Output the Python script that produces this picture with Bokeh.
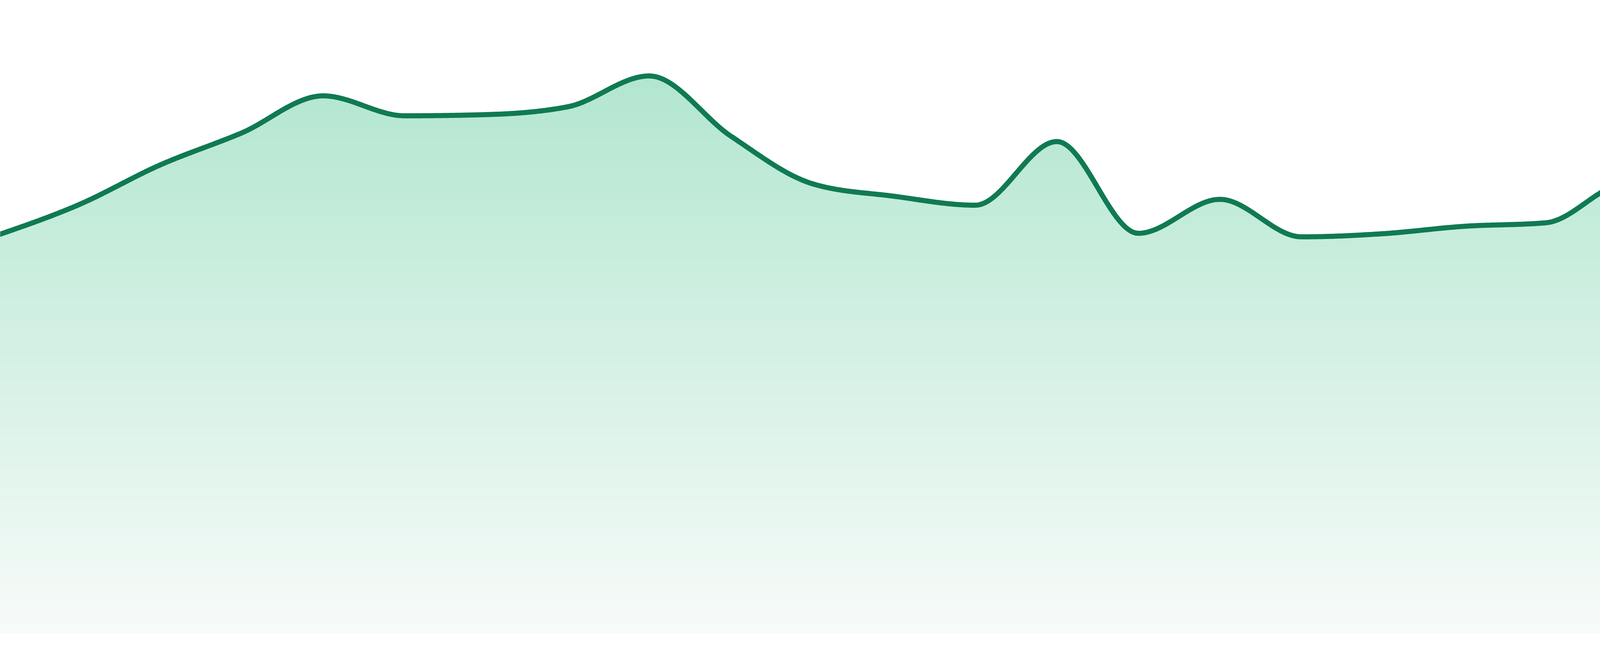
import numpy as np
from bokeh.plotting import figure
from bokeh.models import Range1d
from bokeh.embed import file_html
from bokeh.resources import INLINE

# --- data (24 evenly spaced samples) ---
index = list(range(24))
values = [102.1, 109.9, 120.1, 128.3, 137.8, 132.7, 133.0, 135.0, 142.9, 127.5,
          115.3, 112.1, 109.8, 126.1, 102.6, 111.3, 101.7, 102.5, 104.4, 105.3,
          115.5, 115.6, 116.0, 114.0]

line_color = "#107a52"
fill_top = (178, 230, 208)
fill_bottom = (247, 251, 249)


def monotone_x(xs, ys, n=40):
    xs = np.asarray(xs, float)
    ys = np.asarray(ys, float)
    m = len(xs)
    t = np.zeros(m)
    for i in range(1, m - 1):
        h0 = xs[i] - xs[i - 1]
        h1 = xs[i + 1] - xs[i]
        s0 = (ys[i] - ys[i - 1]) / h0
        s1 = (ys[i + 1] - ys[i]) / h1
        p = (s0 * h1 + s1 * h0) / (h0 + h1)
        t[i] = (np.sign(s0) + np.sign(s1)) * min(abs(s0), abs(s1), 0.5 * abs(p))
    h = xs[1] - xs[0]
    t[0] = (3 * (ys[1] - ys[0]) / h - t[1]) / 2
    h = xs[-1] - xs[-2]
    t[-1] = (3 * (ys[-1] - ys[-2]) / h - t[-2]) / 2
    ox, oy = [xs[0]], [ys[0]]
    u = np.linspace(0, 1, n + 1)[1:]
    for i in range(m - 1):
        x0, x1, y0, y1 = xs[i], xs[i + 1], ys[i], ys[i + 1]
        dx = (x1 - x0) / 3
        cx0, cy0 = x0 + dx, y0 + dx * t[i]
        cx1, cy1 = x1 - dx, y1 - dx * t[i + 1]
        bx = (1 - u) ** 3 * x0 + 3 * (1 - u) ** 2 * u * cx0 + 3 * (1 - u) * u ** 2 * cx1 + u ** 3 * x1
        by = (1 - u) ** 3 * y0 + 3 * (1 - u) ** 2 * u * cy0 + 3 * (1 - u) * u ** 2 * cy1 + u ** 3 * y1
        ox.extend(bx)
        oy.extend(by)
    return np.array(ox), np.array(oy)


cx, cy = monotone_x(index, values)

W, H = 4792, 1672
p = figure(width=W, height=H, output_backend="svg", toolbar_location=None,
           x_range=Range1d(0.03833, 23), y_range=Range1d(-4.9, 162.3),
           min_border=0, outline_line_color=None)
p.axis.visible = False
p.grid.visible = False
p.background_fill_color = "white"
p.border_fill_color = "white"

top_v = max(values)
nb = 140
levels = np.linspace(0, top_v, nb, endpoint=False)
for a in levels:
    f = a / top_v
    col = tuple(int(round(fill_bottom[k] + (fill_top[k] - fill_bottom[k]) * f)) for k in range(3))
    hexc = "#%02x%02x%02x" % col
    y2 = np.maximum(cy, a)
    p.varea(x=cx, y1=np.full_like(cx, a), y2=y2, fill_color=hexc, fill_alpha=1.0)

p.line(cx, cy, line_color=line_color, line_width=13, line_join="round", line_cap="round")

open("out.html", "w").write(file_html(p, INLINE))
